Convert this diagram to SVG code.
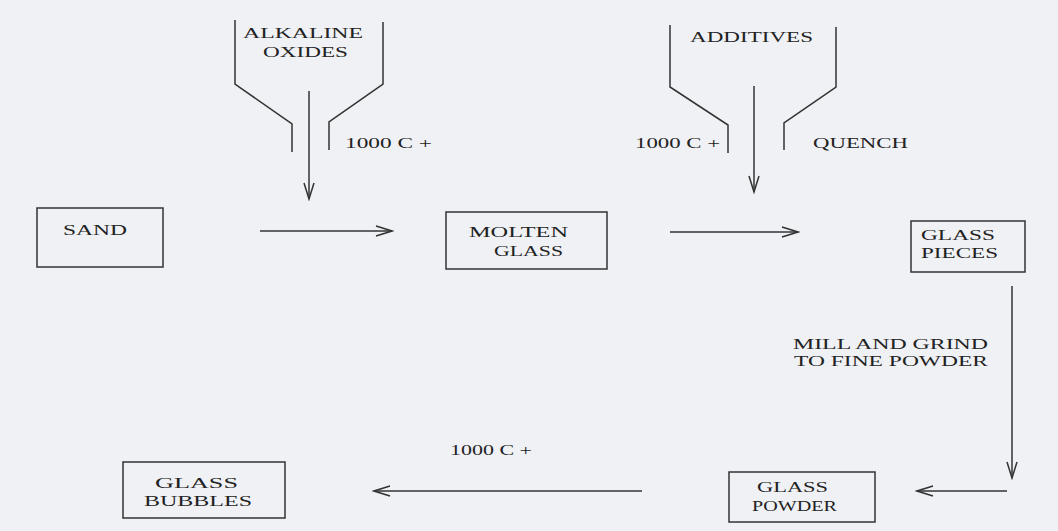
<svg xmlns="http://www.w3.org/2000/svg" width="1058" height="531" viewBox="0 0 1058 531">
<style>
.t{font-family:"Liberation Serif","Times New Roman",serif;font-size:15px;fill:#222}
.box{fill:none;stroke:#333;stroke-width:1.5}
.ln{fill:none;stroke:#333;stroke-width:1.5}
.arr{fill:none;stroke:#333;stroke-width:1.5;marker-end:url(#ah)}
</style>
<defs>
<marker id="ah" markerUnits="userSpaceOnUse" markerWidth="20" markerHeight="14" refX="18" refY="7" orient="auto" viewBox="0 0 20 14">
<path d="M2,2 L18,7 L2,12" fill="none" stroke="#333" stroke-width="1.5"/>
</marker>
</defs>
<rect width="1058" height="531" fill="#eff1f5"/>

<g id="hopper-alkaline">
<path class="ln" d="M235,20 V84 L292,124 V152"/>
<path class="ln" d="M383,22 V84 L329,122 V150"/>
<text class="t" x="243" y="38" textLength="120" lengthAdjust="spacingAndGlyphs">ALKALINE</text>
<text class="t" x="263" y="57" textLength="85" lengthAdjust="spacingAndGlyphs">OXIDES</text>
</g>

<g id="hopper-additives">
<path class="ln" d="M670,25 V87 L728,125 V153"/>
<path class="ln" d="M836,27 V87 L784,123 V150"/>
<text class="t" x="690" y="42" textLength="123" lengthAdjust="spacingAndGlyphs">ADDITIVES</text>
</g>

<g id="sand">
<rect class="box" x="37" y="208" width="126" height="59"/>
<text class="t" x="63" y="235" textLength="64" lengthAdjust="spacingAndGlyphs">SAND</text>
</g>

<g id="molten-glass">
<rect class="box" x="446" y="212" width="161" height="57"/>
<text class="t" x="469" y="237" textLength="99" lengthAdjust="spacingAndGlyphs">MOLTEN</text>
<text class="t" x="494" y="256" textLength="69" lengthAdjust="spacingAndGlyphs">GLASS</text>
</g>

<g id="glass-pieces">
<rect class="box" x="911" y="221" width="114" height="51"/>
<text class="t" x="921" y="240" textLength="74" lengthAdjust="spacingAndGlyphs">GLASS</text>
<text class="t" x="921" y="258" textLength="77" lengthAdjust="spacingAndGlyphs">PIECES</text>
</g>

<g id="glass-powder">
<rect class="box" x="729" y="472" width="146" height="50"/>
<text class="t" x="757" y="492" textLength="71" lengthAdjust="spacingAndGlyphs">GLASS</text>
<text class="t" x="752" y="511" textLength="85" lengthAdjust="spacingAndGlyphs">POWDER</text>
</g>

<g id="glass-bubbles">
<rect class="box" x="123" y="462" width="162" height="56"/>
<text class="t" x="155" y="488" textLength="83" lengthAdjust="spacingAndGlyphs">GLASS</text>
<text class="t" x="144" y="506" textLength="108" lengthAdjust="spacingAndGlyphs">BUBBLES</text>
</g>

<g id="connectors">
<line class="arr" x1="309" y1="91" x2="309" y2="199"/>
<line class="arr" x1="754" y1="86" x2="754" y2="192"/>
<line class="arr" x1="260" y1="231" x2="392" y2="231"/>
<line class="arr" x1="670" y1="232" x2="798" y2="232"/>
<line class="arr" x1="1012" y1="286" x2="1012" y2="478"/>
<line class="arr" x1="1007" y1="491" x2="917" y2="491"/>
<line class="arr" x1="642" y1="491" x2="374" y2="491"/>
</g>

<g id="labels">
<text class="t" x="345" y="148" textLength="87" lengthAdjust="spacingAndGlyphs">1000 C +</text>
<text class="t" x="635" y="148" textLength="85" lengthAdjust="spacingAndGlyphs">1000 C +</text>
<text class="t" x="813" y="148" textLength="95" lengthAdjust="spacingAndGlyphs">QUENCH</text>
<text class="t" x="793" y="349" textLength="195" lengthAdjust="spacingAndGlyphs">MILL AND GRIND</text>
<text class="t" x="794" y="366" textLength="194" lengthAdjust="spacingAndGlyphs">TO FINE POWDER</text>
<text class="t" x="450" y="455" textLength="82" lengthAdjust="spacingAndGlyphs">1000 C +</text>
</g>
</svg>
